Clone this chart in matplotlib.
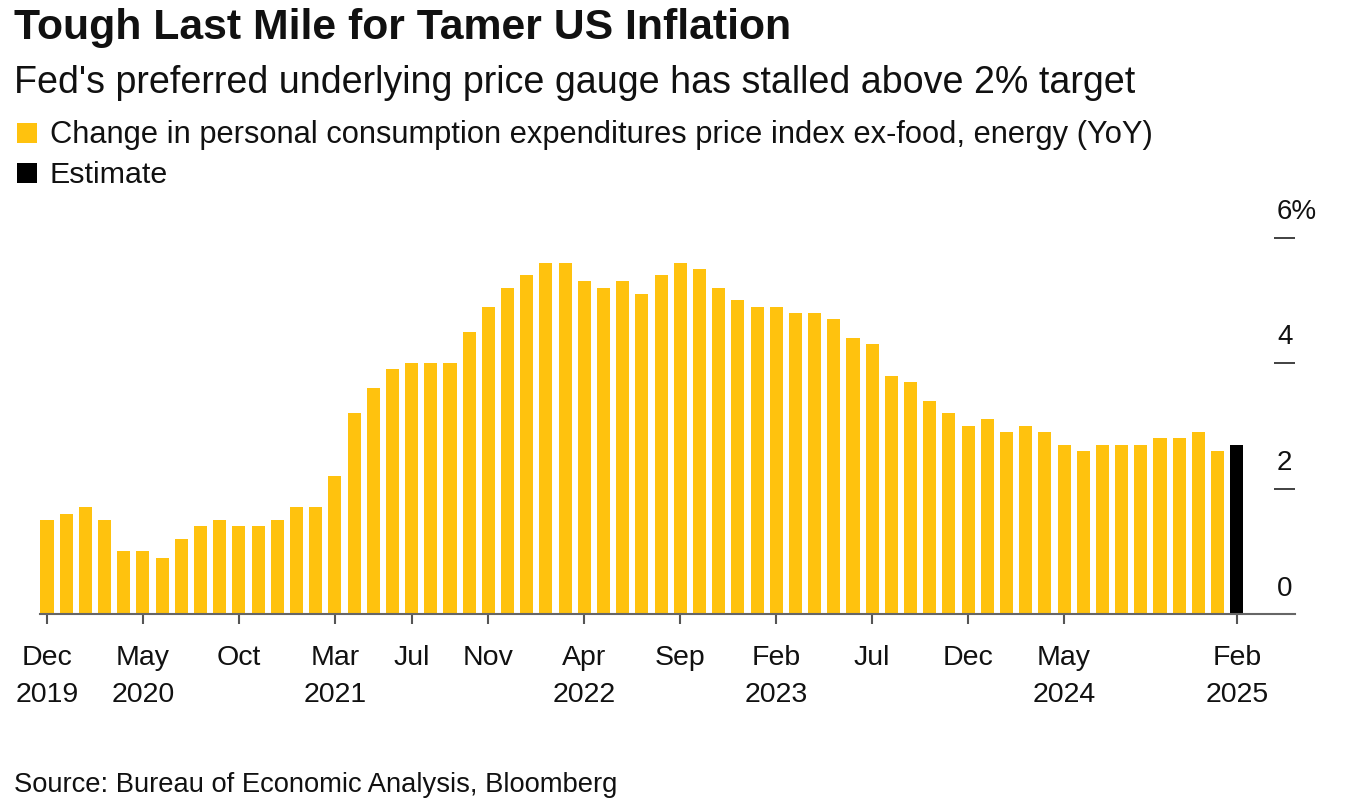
import matplotlib
matplotlib.use("Agg")
import matplotlib.pyplot as plt
import matplotlib.transforms as mtransforms
from matplotlib.patches import Rectangle
import pandas as pd

# ---------------- data ----------------
months = [str(p) for p in pd.period_range("2019-12", "2025-02", freq="M")]
core_pce = [1.5, 1.6, 1.7, 1.5, 1.0, 1.0, 0.9, 1.2, 1.4, 1.5, 1.4, 1.4, 1.5, 1.7, 1.7, 2.2,
            3.2, 3.6, 3.9, 4.0, 4.0, 4.0, 4.5, 4.9, 5.2, 5.4, 5.6, 5.6, 5.3, 5.2, 5.3, 5.1, 5.4, 5.6,
            5.5, 5.2, 5.0, 4.9, 4.9, 4.8, 4.8, 4.7, 4.4, 4.3, 3.8, 3.7, 3.4, 3.2, 3.0, 3.1, 2.9, 3.0,
            2.9, 2.7, 2.6, 2.7, 2.7, 2.7, 2.8, 2.8, 2.9, 2.6, 2.7]
is_estimate = [False] * 62 + [True]

tick_dates = ["2019-12", "2020-05", "2020-10", "2021-03", "2021-07", "2021-11", "2022-04",
              "2022-09", "2023-02", "2023-07", "2023-12", "2024-05", "2025-02"]
tick_month_labels = ["Dec", "May", "Oct", "Mar", "Jul", "Nov", "Apr", "Sep", "Feb", "Jul", "Dec", "May", "Feb"]
tick_year_labels = ["2019", "2020", "", "2021", "", "", "2022", "", "2023", "", "", "2024", "2025"]
y_ticks = [0, 2, 4, 6]
y_tick_labels = ["0", "2", "4", "6%"]

title = "Tough Last Mile for Tamer US Inflation"
subtitle = "Fed's preferred underlying price gauge has stalled above 2% target"
legend_labels = ["Change in personal consumption expenditures price index ex-food, energy (YoY)", "Estimate"]
source = "Source: Bureau of Economic Analysis, Bloomberg"

# ---------------- style ----------------
W, H = 1362, 798
DPI = 100
YELLOW = "#FFC20E"
BLACK = "#000000"
TXT = "#111111"
plt.rcParams["font.family"] = ["Liberation Sans", "DejaVu Sans"]

fig = plt.figure(figsize=(W / DPI, H / DPI), dpi=DPI)
fig.patch.set_facecolor("white")

ax_l, ax_r, ax_top, ax_bot = 40, 1295, 237.5, 614
ax = fig.add_axes([ax_l / W, 1 - ax_bot / H, (ax_r - ax_l) / W, (ax_bot - ax_top) / H])

x = list(range(len(months)))
colors = [BLACK if e else YELLOW for e in is_estimate]
ax.bar(x, core_pce, width=0.68, color=colors, linewidth=0, zorder=1)

px_per_month = 19.19
ax.set_xlim(-(47 - ax_l) / px_per_month, (ax_r - 47) / px_per_month)
ax.set_ylim(0, 6)

for s in ["top", "left", "right"]:
    ax.spines[s].set_visible(False)
ax.spines["bottom"].set_color("#666666")
ax.spines["bottom"].set_linewidth(1.5)
ax.spines["bottom"].set_zorder(3)

tick_idx = [months.index(d) for d in tick_dates]
ax.set_xticks(tick_idx)
ax.set_xticklabels([])
ax.tick_params(axis="x", direction="out", length=7, width=1.5, color="#555555")

ax.yaxis.tick_right()
ax.set_yticks(y_ticks)
ax.set_yticklabels([])
ax.tick_params(axis="y", direction="in", length=15, width=1.3, color="#333333")

# y tick labels above tick marks
ylab_tr = mtransforms.offset_copy(
    mtransforms.blended_transform_factory(ax.transAxes, ax.transData),
    fig=fig, x=0, y=18.5 * 72 / DPI, units="points")
x_frac = (1277 - ax_l) / (ax_r - ax_l)
for v, lab in zip(y_ticks, y_tick_labels):
    ax.text(x_frac, v, lab, transform=ylab_tr, ha="left", va="baseline",
            fontsize=20, color=TXT)

# x tick labels (month line and year line)
ah = ax_bot - ax_top
xt = ax.get_xaxis_transform()
for i, m, yv in zip(tick_idx, tick_month_labels, tick_year_labels):
    ax.text(i, -(665 - ax_bot) / ah, m, transform=xt, ha="center", va="baseline",
            fontsize=20.5, color=TXT, clip_on=False)
    if yv:
        ax.text(i, -(701.7 - ax_bot) / ah, yv, transform=xt, ha="center", va="baseline",
                fontsize=20.5, color=TXT, clip_on=False)

# ---------------- header / footer ----------------
renderer = fig.canvas.get_renderer()


def fig_text(xp, yp, s, size, target_w=None, **kw):
    t = fig.text(xp / W, 1 - yp / H, s, ha="left", va="baseline", fontsize=size, color=TXT, **kw)
    if target_w:
        w = t.get_window_extent(renderer).width
        t.set_fontsize(size * target_w / w)
    return t


fig_text(14, 39.5, title, 30, target_w=779, fontweight="bold")
fig_text(14, 92.7, subtitle, 22, target_w=1116)
fig_text(50, 142.7, legend_labels[0], 20, target_w=1100)
fig_text(50, 182.7, legend_labels[1], 20, target_w=118)
fig_text(14, 791.5, source, 18, target_w=603)

# legend squares
for (x0, y0, c) in [(17, 123, YELLOW), (17, 163, BLACK)]:
    fig.patches.append(Rectangle((x0 / W, 1 - (y0 + 20) / H), 20 / W, 20 / H,
                                 transform=fig.transFigure, facecolor=c, edgecolor="none"))

fig.savefig("out.png", dpi=DPI, facecolor="white")
